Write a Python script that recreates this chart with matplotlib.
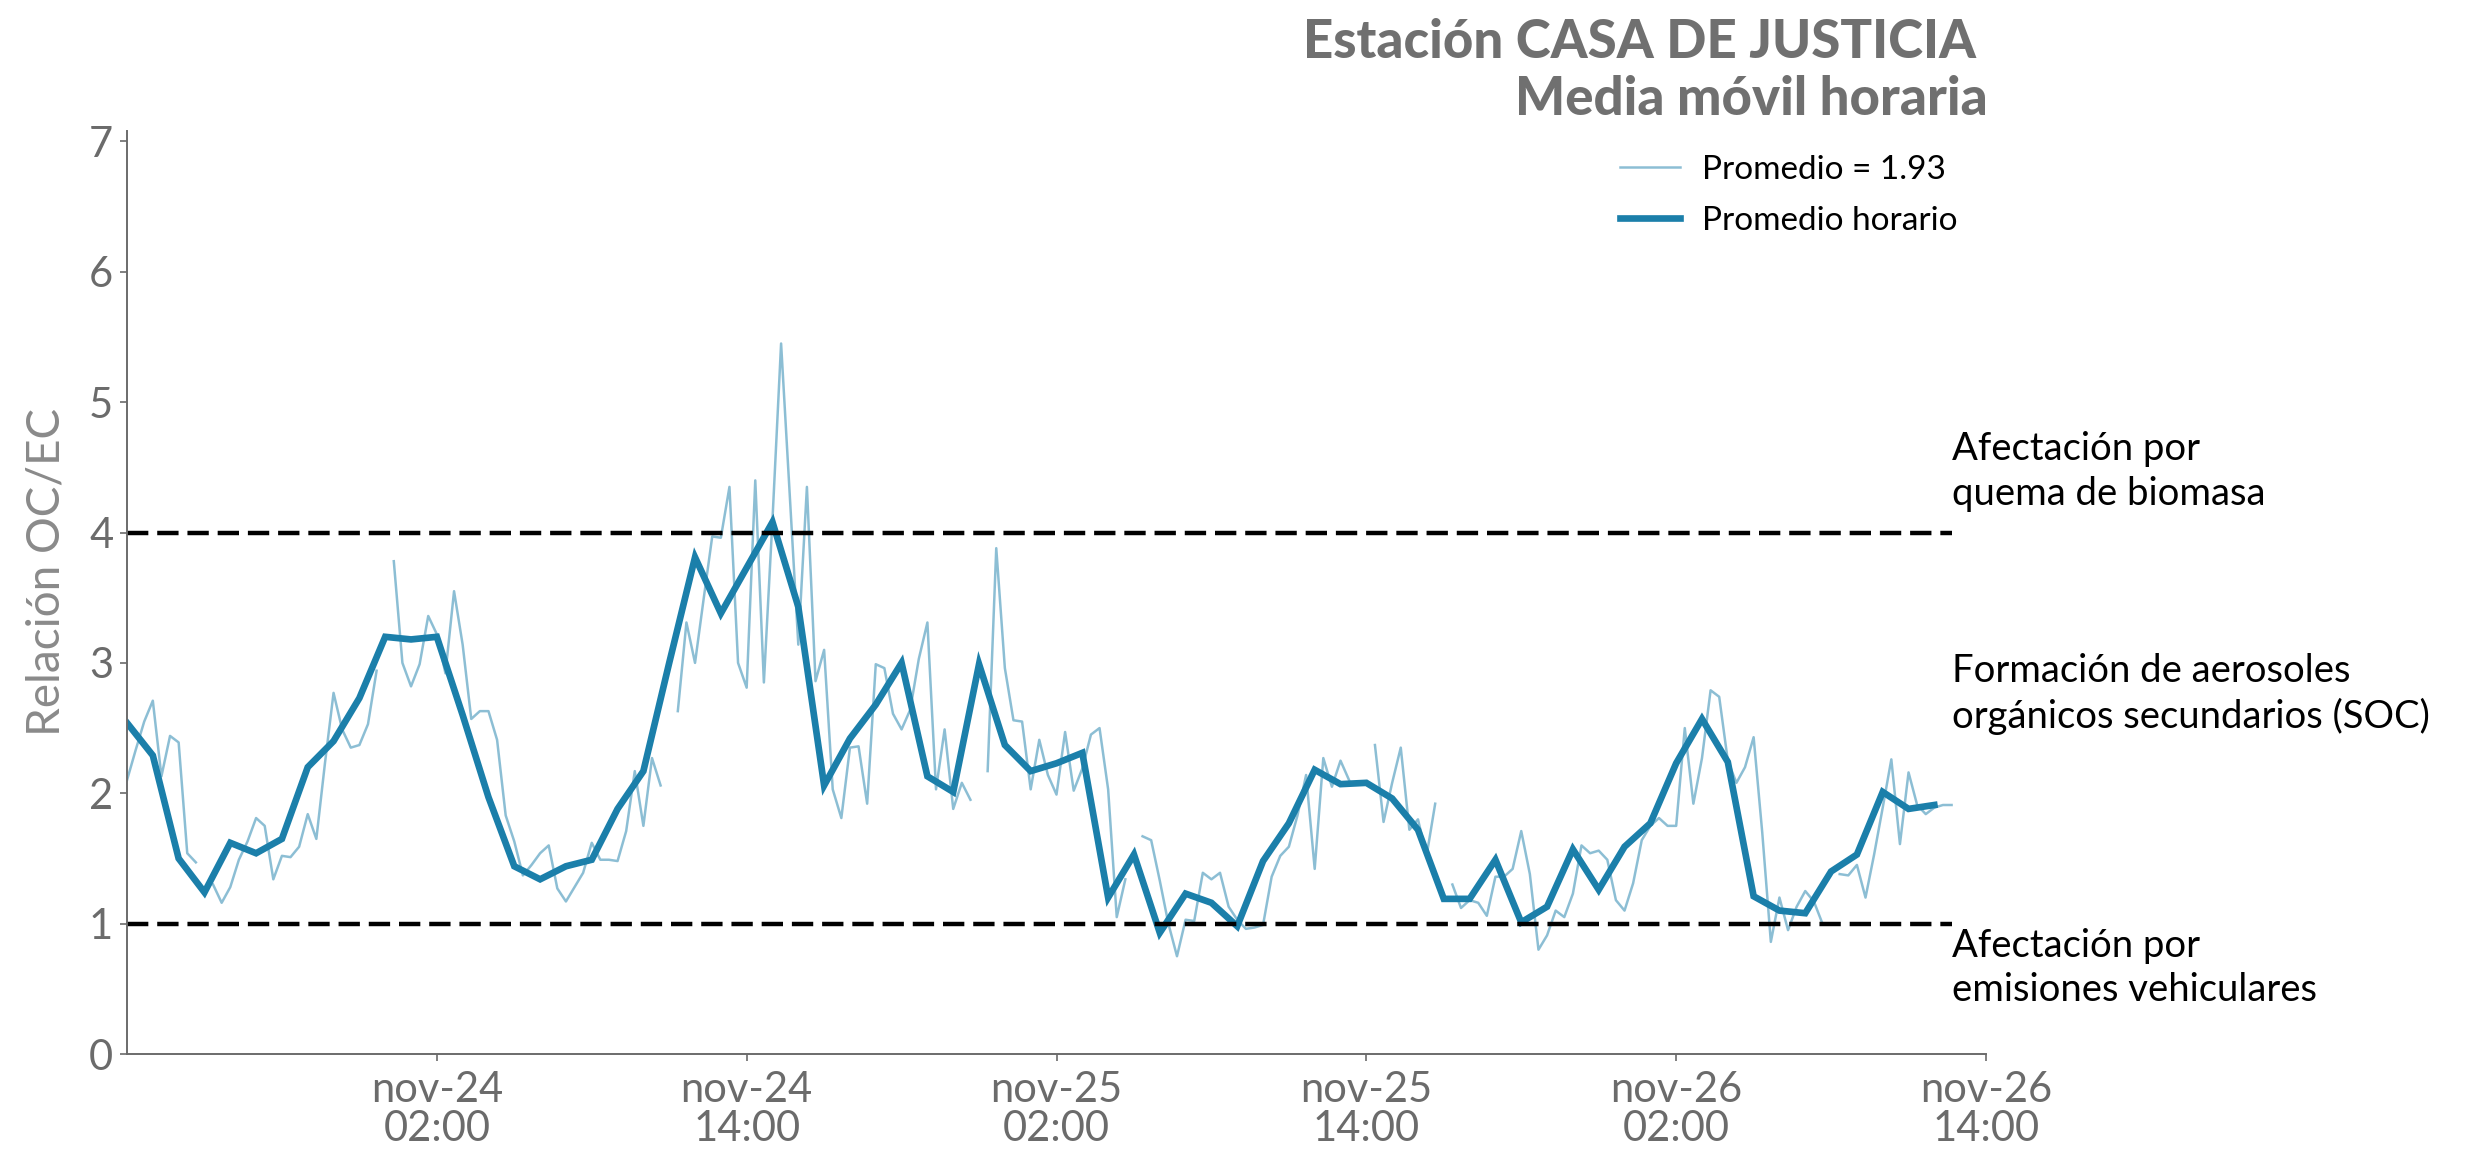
import numpy as np
import matplotlib
matplotlib.use("Agg")
import matplotlib.pyplot as plt
import matplotlib.dates as mdates
from datetime import datetime, timedelta

plt.rcParams['font.family'] = ['Lato', 'DejaVu Sans']

# ---------------- data ----------------
start = datetime(2023, 11, 23, 14, 0)

# 20-minute OC/EC ratio (nan = missing)
nan = np.nan
ratio_20min = [
    2.10, 2.33, 2.55, 2.71, 2.13, 2.44, 2.39, 1.54, 1.47, nan,
    1.30, 1.16, 1.28, 1.49, 1.63, 1.81, 1.75, 1.34, 1.52, 1.51,
    1.59, 1.84, 1.65, 2.23, 2.77, 2.49, 2.35, 2.37, 2.53, 2.94,
    nan, 3.78, 3.00, 2.82, 2.99, 3.36, 3.22, 2.92, 3.55, 3.14,
    2.57, 2.63, 2.63, 2.41, 1.83, 1.63, 1.37, 1.45, 1.54, 1.60,
    1.27, 1.17, 1.28, 1.39, 1.62, 1.49, 1.49, 1.48, 1.71, 2.17,
    1.75, 2.27, 2.06, nan, 2.63, 3.31, 3.00, 3.49, 3.97, 3.96,
    4.35, 3.00, 2.81, 4.40, 2.85, 4.10, 5.45, 4.30, 3.14, 4.35,
    2.86, 3.10, 2.03, 1.81, 2.35, 2.36, 1.92, 2.99, 2.96, 2.61,
    2.49, 2.64, 3.03, 3.31, 2.03, 2.49, 1.88, 2.08, 1.95, nan,
    2.17, 3.88, 2.96, 2.56, 2.55, 2.03, 2.41, 2.14, 1.99, 2.47,
    2.02, 2.19, 2.45, 2.50, 2.03, 1.05, 1.34, nan, 1.67, 1.64,
    1.33, 1.00, 0.75, 1.03, 1.02, 1.39, 1.34, 1.39, 1.13, 1.03,
    0.96, 0.97, 0.99, 1.36, 1.52, 1.59, 1.83, 2.14, 1.42, 2.27,
    2.05, 2.25, 2.10, nan, nan, 2.37, 1.78, 2.08, 2.35, 1.72,
    1.80, 1.52, 1.92, nan, 1.30, 1.12, 1.18, 1.16, 1.06, 1.36,
    1.36, 1.42, 1.71, 1.38, 0.80, 0.91, 1.10, 1.05, 1.23, 1.60,
    1.54, 1.56, 1.49, 1.18, 1.10, 1.31, 1.64, 1.75, 1.81, 1.75,
    1.75, 2.50, 1.92, 2.27, 2.79, 2.74, 2.25, 2.08, 2.20, 2.43,
    1.70, 0.86, 1.20, 0.95, 1.13, 1.25, 1.17, 1.00, nan, 1.38,
    1.37, 1.45, 1.20, 1.53, 1.89, 2.26, 1.61, 2.16, 1.91, 1.84,
    1.89, 1.91, 1.91,
]

# hourly mean OC/EC ratio
ratio_hourly = [
    2.54, 2.29, 1.50, 1.24, 1.62, 1.54, 1.65, 2.20, 2.40, 2.73,
    3.20, 3.18, 3.20, 2.60, 1.97, 1.44, 1.34, 1.44, 1.49, 1.88,
    2.17, 3.00, 3.81, 3.38, 3.73, 4.08, 3.43, 2.06, 2.42, 2.68,
    3.00, 2.13, 2.01, 2.99, 2.37, 2.17, 2.23, 2.31, 1.20, 1.53,
    0.93, 1.23, 1.16, 0.98, 1.48, 1.77, 2.18, 2.07, 2.08, 1.96,
    1.72, 1.19, 1.19, 1.49, 1.01, 1.13, 1.57, 1.26, 1.59, 1.77,
    2.23, 2.57, 2.24, 1.21, 1.10, 1.08, 1.40, 1.53, 2.01, 1.88,
    1.91,
]

thresholds = [4, 1]
tick_labels = ["nov-24\n02:00", "nov-24\n14:00", "nov-25\n02:00",
               "nov-25\n14:00", "nov-26\n02:00", "nov-26\n14:00"]
zone_labels = ["Afectación por\nquema de biomasa",
               "Formación de aerosoles\norgánicos secundarios (SOC)",
               "Afectación por\nemisiones vehiculares"]
zone_y = [4.47, 2.76, 0.66]
mean_label = "Promedio = 1.93"
hourly_label = "Promedio horario"
title1 = "Estación CASA DE JUSTICIA"
title2 = "Media móvil horaria"
ylabel = "Relación OC/EC"

t20 = [start + timedelta(minutes=20 * i) for i in range(len(ratio_20min))]
th = [start + timedelta(hours=i) for i in range(len(ratio_hourly))]
tick_pos = [start + timedelta(hours=12 * (i + 1)) for i in range(len(tick_labels))]
t_end_lines = start + timedelta(hours=70.7)

# ---------------- figure ----------------
W, H = 2470, 1176
fig = plt.figure(figsize=(W / 100, H / 100), dpi=100)
ax = fig.add_axes([127 / W, 1 - 1054 / H, (1986 - 127) / W, (1054 - 131) / H])

blue = '#1B7FAA'
gray = '#6b6b6b'

ax.plot(t20, ratio_20min, color=blue, alpha=0.5, lw=1.8, label=mean_label)
ax.plot(th, ratio_hourly, color=blue, lw=4.8, label=hourly_label,
        solid_joinstyle='miter')

for y in thresholds:
    ax.plot([start, t_end_lines], [y, y], color='black', lw=3.2,
            ls=(0, (4.8, 2.0)), clip_on=False)

ax.set_xlim(start, start + timedelta(hours=72))
ax.set_ylim(0, 7.08)
ax.set_yticks(range(0, 8))
ax.set_xticks(tick_pos)
ax.set_xticklabels(tick_labels)

for s in ['top', 'right']:
    ax.spines[s].set_visible(False)
for s in ['left', 'bottom']:
    ax.spines[s].set_color(gray)
    ax.spines[s].set_linewidth(1.4)
ax.tick_params(axis='both', colors=gray, labelsize=30, length=5, width=1.2)
ax.tick_params(axis='x', pad=7)
ax.tick_params(axis='y', pad=5)
for lab in ax.get_xticklabels():
    lab.set_linespacing(1.05)

fig.text(46 / W, 1 - 572 / H, ylabel, rotation=90, ha='center', va='center',
         fontsize=33, color='#8a8a8a')

for lab, y in zip(zone_labels, zone_y):
    ax.text(t_end_lines, y, lab, ha='left', va='center', fontsize=27.5,
            color='black', linespacing=1.3, clip_on=False)

fig.text(1976 / W, 1 - 58 / H, title1, ha='right', va='baseline',
         fontsize=38, fontweight='black', color='#707070')
fig.text(1988 / W, 1 - 115 / H, title2, ha='right', va='baseline',
         fontsize=38, fontweight='black', color='#707070')

leg = fig.legend(loc='upper left', bbox_to_anchor=(1620 / W, 1 - 155 / H),
                 frameon=False, fontsize=24, handlelength=1.8,
                 handletextpad=0.65, labelspacing=0.62, borderpad=0,
                 borderaxespad=0)
for t in leg.get_texts():
    t.set_color('black')

fig.savefig('out.png', dpi=100)
